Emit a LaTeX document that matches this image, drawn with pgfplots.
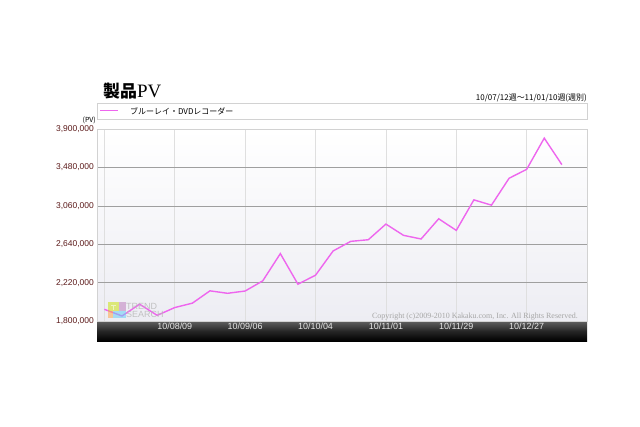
\documentclass[border=0pt]{standalone}
\usepackage{pgfplots}
\pgfplotsset{compat=1.18}
\usepackage{fontspec}
\setmainfont{Liberation Sans}
\newfontfamily\cjk{Noto Sans CJK JP}
\newfontfamily\serif{Liberation Serif}
\definecolor{pvline}{HTML}{EE66EE}
\definecolor{ylab}{HTML}{5C1A1A}
\definecolor{bgbot}{HTML}{EDEDF3}
\pgfplotstableread{
w v
0 1928000
1 1855000
2 1984000
3 1862000
4 1947000
5 1995000
6 2130000
7 2103000
8 2128000
9 2239000
10 2537000
11 2203000
12 2301000
13 2566000
14 2671000
15 2689000
16 2860000
17 2737000
18 2697000
19 2918000
20 2791000
21 3125000
22 3067000
23 3361000
24 3459000
25 3800000
26 3510000
}\pvdata
\begin{document}
\begin{tikzpicture}[x=1bp,y=1bp]
\useasboundingbox[fill=white] (0,0) rectangle (640,426);
% title
\node[anchor=base west,inner sep=0pt] at (103,329) {{\cjk\fontsize{17}{17}\selectfont\bfseries 製品}{\serif\fontsize{19}{19}\selectfont PV}};
\node[anchor=base east,inner sep=0pt] at (587,326) {\cjk\fontsize{8}{8}\selectfont 10/07/12週～11/01/10週(週別)};
% legend box
\draw[gray!35,fill=white] (97,307) rectangle (587,323);
\draw[pvline,line width=1.5bp] (100,315.5) -- (118,315.5);
\node[anchor=west,inner sep=0pt] at (130,315) {\cjk\fontsize{8}{8}\selectfont ブルーレイ・DVDレコーダー};
\node[anchor=east,inner sep=0pt] at (96,306) {\cjk\fontsize{7}{7}\selectfont (PV)};
% dark band
\shade[top color=black!62,bottom color=black,middle color=black!85] (97,85) rectangle (587,105);
\begin{axis}[
  at={(97bp,105bp)}, anchor=south west,
  scale only axis, width=490bp, height=192bp,
  xmin=-0.42, xmax=27.43, ymin=1800000, ymax=3900000,
  axis background/.style={shade,top color=white,bottom color=bgbot},
  axis line style={draw=gray!35},
  xtick={0,4,8,12,16,20,24},
  xticklabels={,10/08/09,10/09/06,10/10/04,10/11/01,10/11/29,10/12/27},
  ytick={1800000,2220000,2640000,3060000,3480000,3900000},
  scaled y ticks=false,
  grid=major,
  x grid style={draw=gray!25, line width=0.6bp},
  y grid style={draw=gray!75, line width=0.6bp},
  major tick length=0pt,
  /pgf/number format/assume math mode=true,
  yticklabel style={/pgf/number format/fixed, /pgf/number format/1000 sep={,}, font=\fontsize{8.5}{8.5}\selectfont, text=ylab, inner sep=0pt, xshift=-3bp},
  xticklabel style={font=\fontsize{9}{9}\selectfont, text=black!10, inner sep=0pt, anchor=north, yshift=-2bp},
  clip=false,
]
\addplot[pvline, line width=1.4bp, mark=none] table[x=w,y=v] {\pvdata};
\end{axis}
% logo approximation
\begin{scope}[opacity=0.55]
\fill[yellow!80!green] (108,115) rectangle (119,124);
\fill[orange!70] (108,108) rectangle (113,115);
\fill[cyan!60] (113,108) rectangle (126,115);
\fill[violet!50] (119,115) rectangle (126,124);
\draw[white,line width=0.8bp] (111,121) -- (116,121) (113.5,121) -- (113.5,116);
\end{scope}
\node[anchor=base west,inner sep=0pt,text=gray!55,opacity=0.85] at (126,117) {\fontsize{9}{9}\selectfont TREND};
\node[anchor=base west,inner sep=0pt,text=gray!55,opacity=0.85] at (126,108.5) {\fontsize{9}{9}\selectfont SEARCH};
\node[anchor=base east,inner sep=0pt,text=gray!70] at (578,108) {\serif\fontsize{8}{8}\selectfont Copyright (c)2009-2010 Kakaku.com, Inc. All Rights Reserved.};
\end{tikzpicture}
\end{document}
